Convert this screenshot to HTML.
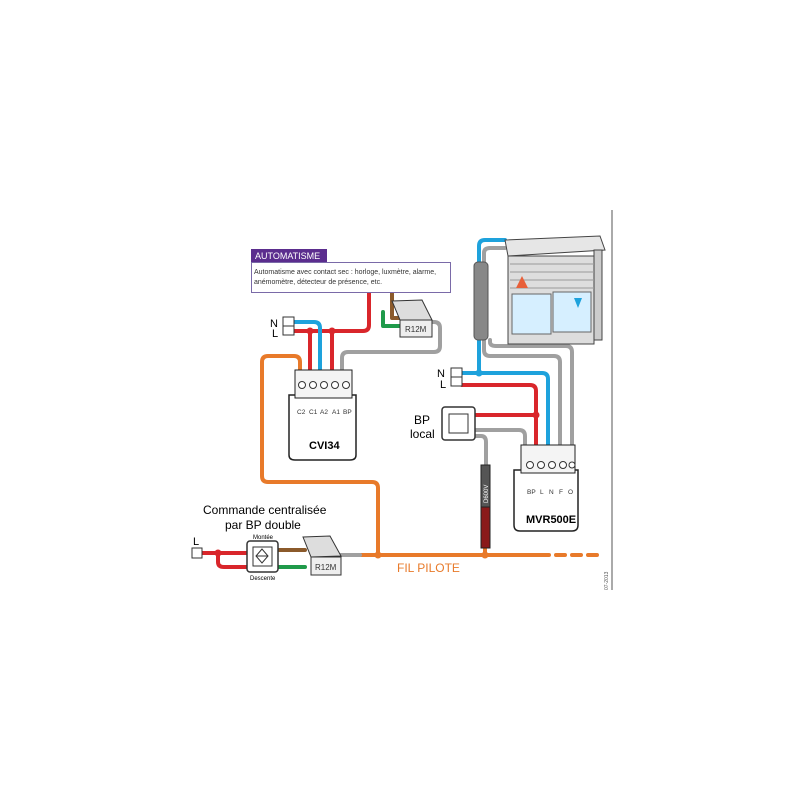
<!DOCTYPE html>
<html><head><meta charset="utf-8"><style>
html,body{margin:0;padding:0;background:#fff;}
svg{display:block;font-family:"Liberation Sans",sans-serif;}
</style></head><body>
<svg width="800" height="800" viewBox="0 0 800 800" xmlns="http://www.w3.org/2000/svg">
<g fill="none" stroke-width="4" stroke-linejoin="round" stroke-linecap="round">
<path d="M300 370 V362 Q300 356 294 356 H268 Q262 356 262 362 V476 Q262 482 268 482 H372 Q378 482 378 488 V555" stroke="#e87a2a"/>
<path d="M360 555 H540" stroke="#e87a2a"/>
<path d="M540 555 H598" stroke="#e87a2a" stroke-dasharray="9,7"/>
<path d="M485 548 V556" stroke="#e87a2a"/>
<path d="M342 372 V358 Q342 352 348 352 H434 Q440 352 440 346 V328 Q440 322 434 322 H430" stroke="#a0a0a0"/>
<path d="M369 292 V325 Q369 331 363 331 H294" stroke="#d9262b"/>
<path d="M310 331 V372 M332 331 V372" stroke="#d9262b"/>
<path d="M294 322 H314 Q320 322 320 328 V372" stroke="#1ea2dc"/>
<path d="M392 292 V318 H400" stroke="#8b5a2b"/>
<path d="M383 312 V326 H400" stroke="#1f9a4a"/>
<path d="M479 262 V246 Q479 240 485 240 H505" stroke="#1ea2dc"/>
<path d="M484 262 V253 Q484 248 490 248 H505" stroke="#a0a0a0"/>
<path d="M479 340 V373" stroke="#1ea2dc"/>
<path d="M462 373 H542 Q548 373 548 379 V445" stroke="#1ea2dc"/>
<path d="M462 385 H530 Q536 385 536 391 V445" stroke="#d9262b"/>
<path d="M475 415 H536" stroke="#d9262b"/>
<path d="M484 340 V350 Q484 356 490 356 H554 Q560 356 560 362 V445" stroke="#a0a0a0"/>
<path d="M490 340 V342 Q490 346 496 346 H566 Q572 346 572 352 V445" stroke="#a0a0a0"/>
<path d="M475 430 H519 Q525 430 525 436 V445" stroke="#a0a0a0"/>
<path d="M475 436 H481 Q486 436 486 442 V465" stroke="#a0a0a0"/>
<path d="M202 553 H247" stroke="#d9262b"/>
<path d="M218 553 V562 Q218 567 224 567 H247" stroke="#d9262b"/>
<path d="M278 550 H305" stroke="#8b5a2b"/>
<path d="M278 567 H305" stroke="#1f9a4a"/>
<path d="M340 555 H360" stroke="#a0a0a0"/>
</g>
<g fill="#d9262b"><circle cx="310" cy="331" r="3.5"/><circle cx="332" cy="331" r="3.5"/><circle cx="536" cy="415" r="3.5"/><circle cx="218" cy="553" r="3.5"/></g>
<circle cx="479" cy="373" r="3.5" fill="#1ea2dc"/>
<circle cx="378" cy="555" r="3.5" fill="#e87a2a"/><circle cx="485" cy="555" r="3.5" fill="#e87a2a"/>
<rect x="481" y="465" width="9" height="42" fill="#555" stroke="#222"/>
<rect x="481" y="507" width="9" height="41" fill="#8a1a1a" stroke="#222"/>
<text x="488" y="503" font-size="6" fill="#fff" transform="rotate(-90 488 503)">D600V</text>
<rect x="251" y="249" width="76" height="14" fill="#5b2d8e"/>
<text x="255" y="259" font-size="9" fill="#fff">AUTOMATISME</text>
<rect x="251.5" y="262.5" width="199" height="30" fill="#fff" stroke="#7a6aa8"/>
<text x="254" y="274" font-size="7" fill="#333">Automatisme avec contact sec : horloge, luxmètre, alarme,</text>
<text x="254" y="284" font-size="7" fill="#333">anémomètre, détecteur de présence, etc.</text>
<path d="M392 301 L422 300 L432 320 L400 320 Z" fill="#ddd" stroke="#333"/>
<rect x="400" y="320" width="32" height="17" fill="#eee" stroke="#333"/>
<text x="405" y="332" font-size="8" fill="#333">R12M</text>
<g fill="#fff" stroke="#333"><rect x="283" y="317" width="11" height="9"/><rect x="283" y="326" width="11" height="9"/>
<rect x="451" y="368" width="11" height="9"/><rect x="451" y="377" width="11" height="9"/>
<rect x="192" y="548" width="10" height="10"/></g>
<text x="270" y="327" font-size="11">N</text><text x="272" y="337" font-size="11">L</text>
<text x="437" y="377" font-size="11">N</text><text x="440" y="388" font-size="11">L</text>
<text x="193" y="545" font-size="11">L</text>
<path d="M289 395 H356 V455 Q356 460 350 460 H295 Q289 460 289 455 Z" fill="#fff" stroke="#222" stroke-width="1.5"/>
<rect x="295" y="370" width="57" height="28" fill="#f4f4f4" stroke="#222"/>
<g fill="#fff" stroke="#333"><circle cx="302" cy="385" r="3.5"/><circle cx="313" cy="385" r="3.5"/><circle cx="324" cy="385" r="3.5"/><circle cx="335" cy="385" r="3.5"/><circle cx="346" cy="385" r="3.5"/></g>
<g font-size="6.5" fill="#333"><text x="297" y="414">C2</text><text x="309" y="414">C1</text><text x="320" y="414">A2</text><text x="332" y="414">A1</text><text x="343" y="414">BP</text></g>
<text x="309" y="449" font-size="11" font-weight="bold">CVI34</text>
<path d="M514 470 H578 V525 Q578 531 572 531 H520 Q514 531 514 525 Z" fill="#fff" stroke="#222" stroke-width="1.5"/>
<rect x="521" y="445" width="54" height="28" fill="#f4f4f4" stroke="#222"/>
<g fill="#fff" stroke="#333"><circle cx="530" cy="465" r="3.5"/><circle cx="541" cy="465" r="3.5"/><circle cx="552" cy="465" r="3.5"/><circle cx="563" cy="465" r="3.5"/><circle cx="572" cy="465" r="3"/></g>
<g font-size="6.5" fill="#333"><text x="527" y="494">BP</text><text x="540" y="494">L</text><text x="549" y="494">N</text><text x="559" y="494">F</text><text x="568" y="494">O</text></g>
<text x="526" y="523" font-size="11" font-weight="bold">MVR500E</text>
<rect x="442" y="407" width="33" height="33" rx="3" fill="#fff" stroke="#333" stroke-width="1.5"/>
<rect x="449" y="414" width="19" height="19" fill="#fff" stroke="#333"/>
<text x="414" y="424" font-size="12">BP</text><text x="410" y="438" font-size="12">local</text>
<rect x="474" y="262" width="14" height="78" rx="4" fill="#888" stroke="#555"/>
<path d="M505 240 L600 236 L605 250 L508 256 Z" fill="#e6e6e6" stroke="#444"/>
<rect x="508" y="256" width="86" height="88" fill="#ddd" stroke="#444"/>
<rect x="594" y="250" width="8" height="90" fill="#ccc" stroke="#444"/>
<g stroke="#999"><line x1="510" y1="264" x2="594" y2="264"/><line x1="510" y1="272" x2="594" y2="272"/><line x1="510" y1="280" x2="594" y2="280"/><line x1="510" y1="288" x2="594" y2="288"/></g>
<rect x="512" y="294" width="39" height="40" fill="#d6efff" stroke="#666"/>
<rect x="553" y="292" width="38" height="40" fill="#d6efff" stroke="#666"/>
<path d="M522 276 L516 288 L528 288 Z" fill="#e8603a"/>
<path d="M574 298 L582 298 L578 308 Z" fill="#1ea2dc"/>
<rect x="247" y="541" width="31" height="31" rx="3" fill="#fff" stroke="#333" stroke-width="1.5"/>
<rect x="253" y="547" width="19" height="19" fill="#fff" stroke="#333"/>
<path d="M262 549 L256 556 L262 563 L268 556 Z M256 556 H268" fill="none" stroke="#333"/>
<text x="253" y="539" font-size="6">Montée</text><text x="250" y="580" font-size="6">Descente</text>
<path d="M303 537 L330 536 L341 556 L311 557 Z" fill="#ddd" stroke="#333"/>
<rect x="311" y="557" width="30" height="18" fill="#eee" stroke="#333"/>
<text x="315" y="570" font-size="8" fill="#333">R12M</text>
<text x="203" y="514" font-size="12">Commande centralisée</text>
<text x="225" y="529" font-size="12">par BP double</text>
<text x="397" y="572" font-size="12" fill="#e87a2a">FIL PILOTE</text>
<line x1="612" y1="210" x2="612" y2="590" stroke="#555"/>
<text x="608" y="590" font-size="5" fill="#555" transform="rotate(-90 608 590)">07-2013</text>
</svg>
</body></html>
